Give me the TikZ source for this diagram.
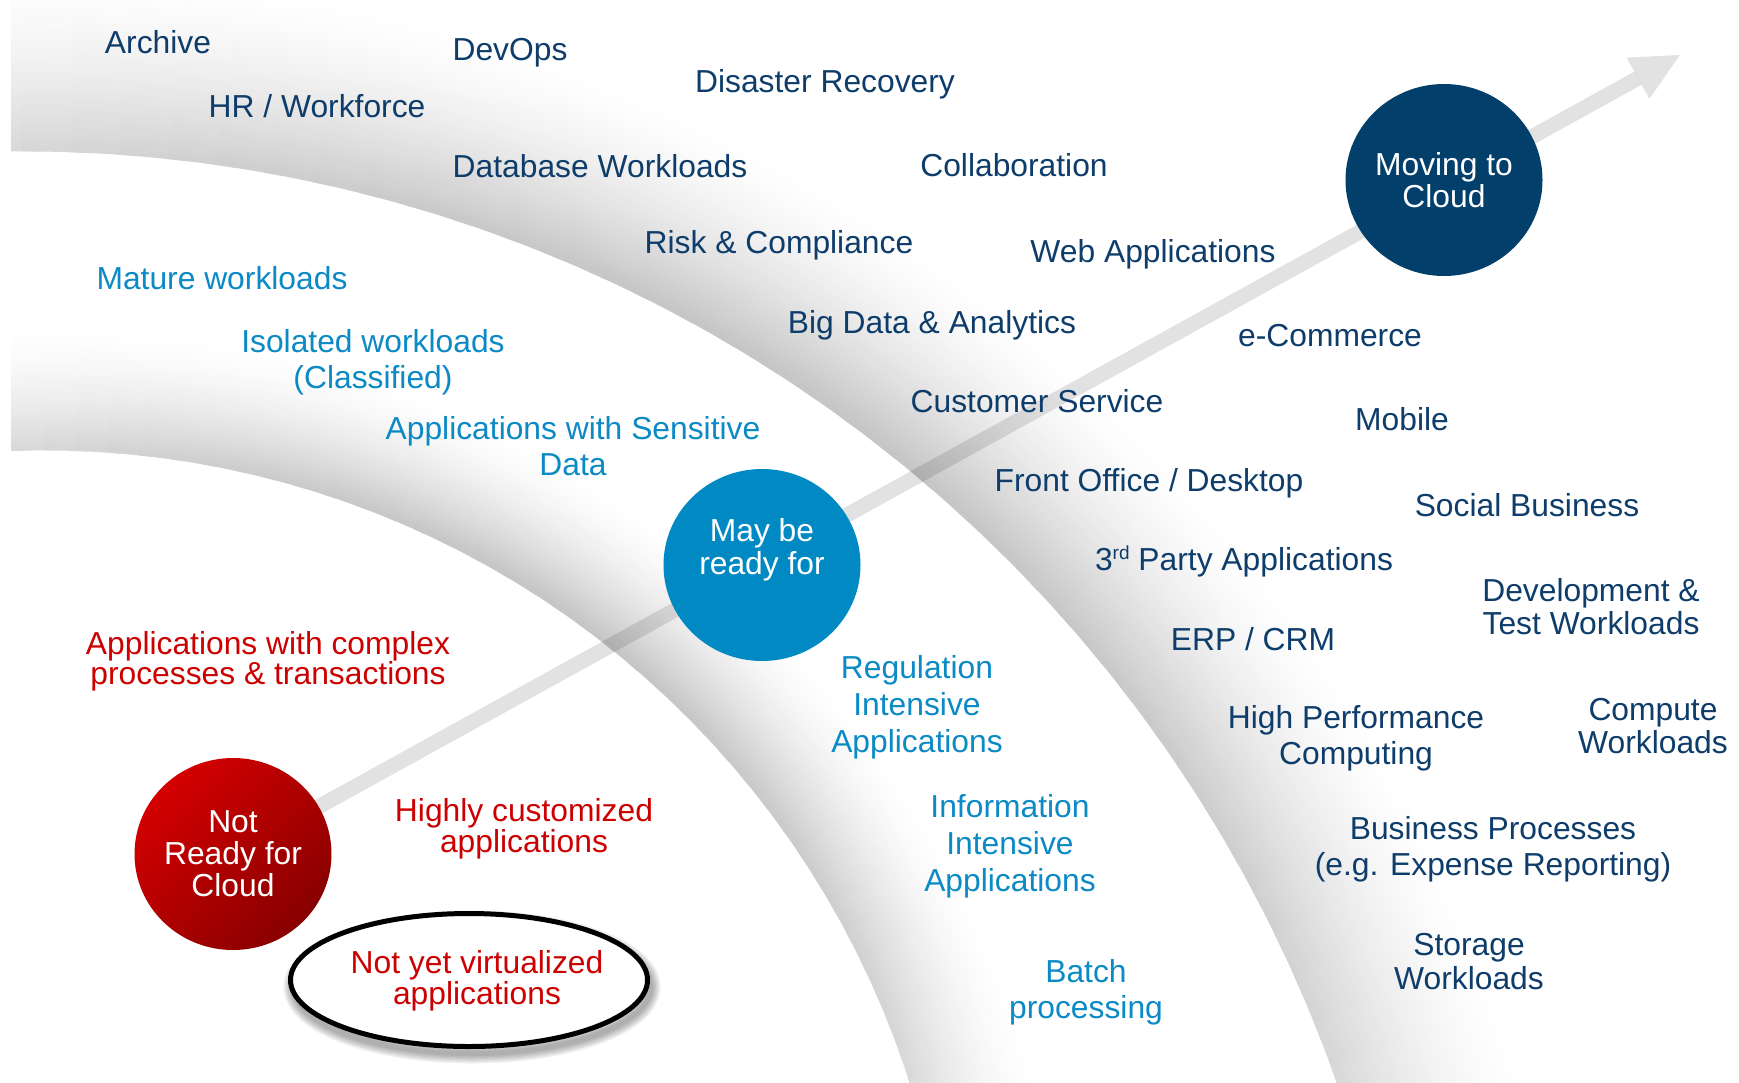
\documentclass[tikz,border=0pt]{standalone}
\usepackage{fontspec}
\setmainfont{Liberation Sans}
\usetikzlibrary{calc,shapes.geometric}

\definecolor{navytext}{HTML}{0E3D6B}
\definecolor{skytext}{HTML}{0B8AC5}
\definecolor{redtext}{HTML}{CC0000}
\definecolor{skyfill}{HTML}{0189C3}
\definecolor{navyfill}{HTML}{023F6B}
\definecolor{redlight}{HTML}{D40000}
\definecolor{reddark}{HTML}{880000}
\definecolor{arrowgray}{HTML}{E2E2E2}

\pgfdeclarelayer{bands}
\pgfdeclarelayer{under}
\pgfsetlayers{bands,under,main}

\begin{document}
\begin{tikzpicture}[x=1pt,y=-1pt,
  lbl/.style={font=\fontsize{31.8}{35.5}\selectfont, align=center, inner sep=0pt},
  navy/.style={lbl, text=navytext},
  sky/.style={lbl, text=skytext},
  alert/.style={lbl, text=redtext},
  disc/.style={ellipse, minimum width=197pt, minimum height=192pt, inner sep=0pt,
    text=white, font=\fontsize{31.8}{32}\selectfont, align=center},
]
\useasboundingbox (0,0) rectangle (1739,1082);

% ---------- readiness circles ----------
\node[disc, top color=redlight, bottom color=reddark, shading angle=45] (notready) at (233,854) {Not\\Ready for\\Cloud};
\node[disc, fill=skyfill] (maybe) at (762,565) {};
\node[disc, fill=navyfill] (moving) at (1444,180) {Moving to\\Cloud};
\node[lbl, text=white, font=\fontsize{31.8}{33}\selectfont] (maybetext) at (762,549.5) {May be\\ready for};
\coordinate (tip) at (1680,55);

% ---------- background swooshes (shade fades outward, darkest mid-arc) ----------
\begin{pgfonlayer}{bands}
  \fill[white] (0,0) rectangle (1739,1082);
  \begin{scope}
    \clip (11,0) rectangle (1739,1082);
    % outer swoosh
    \foreach \a in {-94,-92,...,-14}{
      \pgfmathsetmacro{\fa}{1-0.35*((\a+1+55)/37)^2}
      \foreach \i in {39,...,0}{
        \pgfmathsetmacro{\dk}{23*\fa*(1-(\i+0.5)/40)^1.6}
        \pgfmathsetmacro{\rr}{1394+(\i+0.5)*185/40}
        \draw[shift={(22,1545)}, line width=5.4pt, draw=black!\dk]
          (\a:\rr) arc[start angle=\a, end angle=\a+2.8, radius=\rr];
      }
    }
    % inner swoosh
    \foreach \a in {-94,-92,...,-14}{
      \pgfmathsetmacro{\fa}{1-0.35*((\a+1+55)/37)^2}
      \foreach \i in {29,...,0}{
        \pgfmathsetmacro{\dk}{23*\fa*(1-(\i+0.5)/30)^1.6}
        \pgfmathsetmacro{\rr}{909+(\i+0.5)*125/30}
        \draw[shift={(44,1359)}, line width=5pt, draw=black!\dk]
          (\a:\rr) arc[start angle=\a, end angle=\a+2.8, radius=\rr];
      }
    }
  \end{scope}
\end{pgfonlayer}

% ---------- progression arrow and ellipse shadow ----------
\node[ellipse, draw=black, line width=5pt, fill=white, minimum width=357pt, minimum height=133pt, inner sep=0pt] (virt) at (469,980) {};
\begin{pgfonlayer}{under}
  \begin{scope}[blend mode=multiply]
    \draw[line width=15pt, draw=arrowgray, shorten >=48pt] (notready.center) -- (tip);
    \coordinate (headbase) at ($(tip)!48pt!(notready.center)$);
    \fill[arrowgray] (tip) -- ($(headbase)!23.5pt!90:(tip)$) -- ($(headbase)!23.5pt!-90:(tip)$) -- cycle;
  \end{scope}
  \foreach \k in {0,...,5}{
    \draw[black, opacity=0.06, line width={5+3*\k}] ([shift={(3,7)}]virt.center) ellipse[x radius=178.5, y radius=66.5];
  }
\end{pgfonlayer}
\node[alert, font=\fontsize{31.8}{31}\selectfont] (virttext) at (477,980.5) {Not yet virtualized\\applications};

% ---------- workloads moving to cloud ----------
\node[navy] (archive) at (158,42) {Archive};
\node[navy] (devops) at (510,52.3) {DevOps};
\node[navy] (hr) at (317,106.5) {HR / Workforce};
\node[navy] (dr) at (825,84.3) {Disaster Recovery};
\node[navy] (db) at (600,166) {Database Workloads};
\node[navy] (collab) at (1014,165) {Collaboration};
\node[navy] (risk) at (779,245) {Risk \& Compliance};
\node[navy] (web) at (1153,254) {Web Applications};
\node[navy] (bigdata) at (932,325) {Big Data \& Analytics};
\node[navy] (ecom) at (1330,336) {e-Commerce};
\node[navy] (cust) at (1037,401) {Customer Service};
\node[navy] (mobile) at (1402,419) {Mobile};
\node[navy] (front) at (1149,483.3) {Front Office / Desktop};
\node[navy] (social) at (1527,505) {Social Business};
\node[navy] (third) at (1244,561.5) {3\raisebox{0.36em}{\fontsize{19}{19}\selectfont rd} Party Applications};
\node[navy, font=\fontsize{31.8}{33}\selectfont] (devtest) at (1591,607) {Development \&\\Test Workloads};
\node[navy] (erp) at (1253,639) {ERP / CRM};
\node[navy] (hpc) at (1356,738.3) {High Performance\\Computing};
\node[navy, font=\fontsize{31.8}{33}\selectfont] (compute) at (1653,726) {Compute\\Workloads};
\node[navy] (bp) at (1493,849.3) {Business Processes\\(e.g. Expense Reporting)};
\node[navy, font=\fontsize{31.8}{34}\selectfont] (storage) at (1469,962) {Storage\\Workloads};

% ---------- workloads that may be ready ----------
\node[sky] (mature) at (222,278) {Mature workloads};
\node[sky, font=\fontsize{31.8}{36.6}\selectfont] (isolated) at (373,362.3) {Isolated workloads\\(Classified)};
\node[sky] (sensitive) at (573,446) {Applications with Sensitive\\Data};
\node[sky, font=\fontsize{31.8}{36.6}\selectfont] (regulation) at (917,707.3) {Regulation\\Intensive\\Applications};
\node[sky, font=\fontsize{31.8}{36.6}\selectfont] (information) at (1010,846.3) {Information\\Intensive\\Applications};
\node[sky] (batch) at (1086,992.3) {Batch\\processing};

% ---------- workloads not ready ----------
\node[alert, font=\fontsize{31.8}{30}\selectfont] (complex) at (268,661.3) {Applications with complex\\processes \& transactions};
\node[alert, font=\fontsize{31.8}{31}\selectfont] (custom) at (524,828.3) {Highly customized\\applications};
\end{tikzpicture}
\end{document}
